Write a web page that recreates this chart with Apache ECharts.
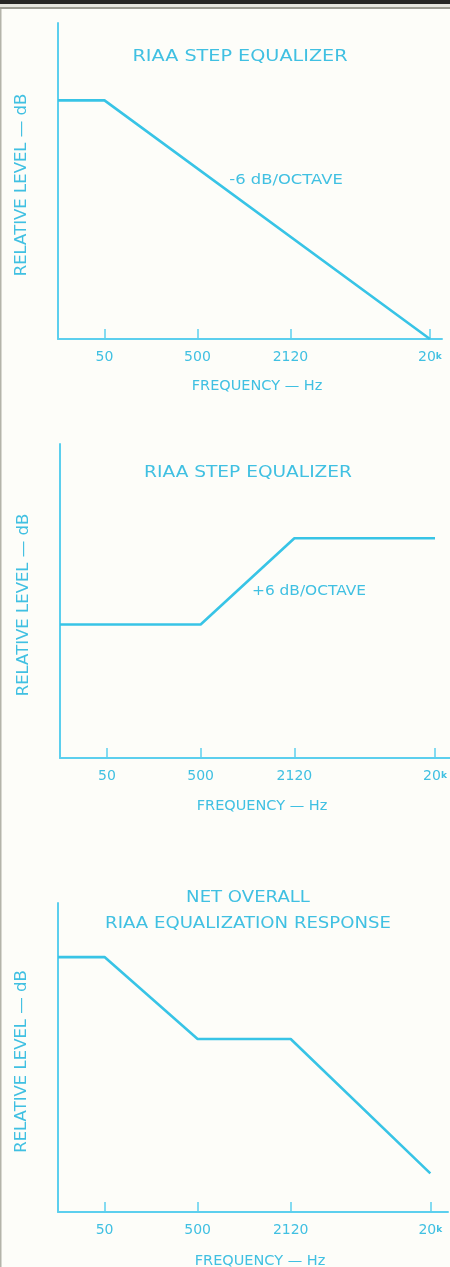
<!DOCTYPE html>
<html>
<head>
<meta charset="utf-8">
<title>RIAA Equalization</title>
<script src="https://cdn.jsdelivr.net/npm/echarts@6/dist/echarts.min.js"></script>
<style>
  html, body { margin: 0; padding: 0; background: #fdfdf9; }
  #chart { width: 450px; height: 1267px; }
</style>
</head>
<body>
<div id="chart"></div>
<script>
// Frequency marks along the schematic abscissa (not drawn to a true log scale)
const tickLabels = ['50', '500', '2120', '20k'];
const tickPos = [0.5, 1.5, 2.5, 4];

// Corner points of each response curve; 'start' is the left end of the abscissa
const stepCutFreqs = ['start', '50', '20k'];
const stepCutLevels = [30.2, 30.2, 0];

const stepBoostFreqs = ['start', '500', '2120', '20k'];
const stepBoostLevels = [17, 17, 28, 28];

const netFreqs = ['start', '50', '500', '2120', '20k'];
const netLevels = [33, 33, 22.4, 22.4, 5];

const titles = ['RIAA STEP EQUALIZER', 'RIAA STEP EQUALIZER', 'NET OVERALL\nRIAA EQUALIZATION RESPONSE'];
const slopeNotes = ['-6 dB/OCTAVE', '+6 dB/OCTAVE'];

const INK = '#40c0e2';
const AXIS = '#5ccfee';
const CURVE = '#38c4e6';
const FONT = '"DejaVu Sans", "Liberation Sans", sans-serif';

function xOf(label) {
  return label === 'start' ? 0 : tickPos[tickLabels.indexOf(label)];
}
function curve(freqs, levels) {
  return freqs.map((f, i) => [xOf(f), levels[i]]);
}

// fixed plot rectangles; names and labels may sit close to the page edge
const grids = [
  { left: 58, top: 23, width: 384, height: 316, outerBoundsMode: 'none', containLabel: false },
  { left: 60, top: 444, width: 390, height: 314, outerBoundsMode: 'none', containLabel: false },
  { left: 58, top: 903, width: 390, height: 309, outerBoundsMode: 'none', containLabel: false }
];
const xMax = [4.13, 4.16, 4.19];
const xNameGap = [40, 41, 42];

const chart = echarts.init(document.getElementById('chart'), null, { renderer: 'canvas' });

// wide lettering: stretch a text element horizontally about its centre
function label(x, y, text, size, stretch, lineHeight) {
  return {
    type: 'text', x: x, y: y, scaleX: stretch, scaleY: 1,
    style: {
      text: text, align: 'center', verticalAlign: 'middle', fill: INK,
      font: size + 'px ' + FONT, lineHeight: lineHeight || size * 1.2
    }
  };
}

const option = {
  backgroundColor: '#fdfdf9',
  animation: false,
  grid: grids,
  xAxis: grids.map((g, i) => ({
    gridIndex: i,
    type: 'value',
    min: 0,
    max: xMax[i],
    axisLine: { show: true, onZero: false, lineStyle: { color: AXIS, width: 2 } },
    splitLine: { show: false },
    axisTick: {
      show: true, inside: true, length: 10, customValues: tickPos,
      lineStyle: { color: AXIS, width: 1.5 }
    },
    axisLabel: {
      customValues: tickPos,
      margin: 11,
      color: INK,
      fontFamily: FONT,
      fontSize: 14,
      formatter: v => {
        const s = tickLabels[tickPos.indexOf(v)] || '';
        return s.replace('k', '{k|k}');
      },
      rich: { k: { fontSize: 9, fontFamily: FONT, color: INK, fontWeight: 'bold' } }
    },
    name: 'FREQUENCY — Hz',
    nameLocation: 'middle',
    nameGap: xNameGap[i],
    nameTextStyle: { color: INK, fontFamily: FONT, fontSize: 14.5, padding: [0, 0, 0, 14] }
  })),
  yAxis: grids.map((g, i) => ({
    gridIndex: i,
    type: 'value',
    min: 0,
    max: 40,
    axisLine: { show: true, onZero: false, lineStyle: { color: AXIS, width: 2 } },
    axisTick: { show: false },
    axisLabel: { show: false },
    splitLine: { show: false },
    name: 'RELATIVE LEVEL — dB',
    nameLocation: 'middle',
    nameRotate: 90,
    nameGap: 28,
    nameTextStyle: { color: INK, fontFamily: FONT, fontSize: 16.5, padding: [0, 8, 0, 0] }
  })),
  series: [
    { data: curve(stepCutFreqs, stepCutLevels), idx: 0 },
    { data: curve(stepBoostFreqs, stepBoostLevels), idx: 1 },
    { data: curve(netFreqs, netLevels), idx: 2 }
  ].map(s => ({
    type: 'line',
    xAxisIndex: s.idx,
    yAxisIndex: s.idx,
    data: s.data,
    showSymbol: false,
    lineStyle: { color: CURVE, width: 2.6 },
    z: 3
  })),
  graphic: [
    // page edge of the printed sheet
    { type: 'rect', shape: { x: 0, y: 0, width: 450, height: 4 }, style: { fill: '#262624' }, silent: true },
    { type: 'rect', shape: { x: 0, y: 4, width: 450, height: 3 }, style: { fill: '#e6e6de' }, silent: true },
    { type: 'rect', shape: { x: 0, y: 7, width: 450, height: 2 }, style: { fill: '#9c9c92' }, silent: true },
    { type: 'rect', shape: { x: 0, y: 9, width: 1.5, height: 1258 }, style: { fill: '#b4b4aa' }, silent: true },
    // chart headings
    label(240, 57, titles[0], 16, 1.2),
    label(248, 473, titles[1], 16, 1.16),
    label(248, 911, titles[2], 16, 1.13, 26),
    // slope annotations
    label(286, 180, slopeNotes[0], 14, 1.17),
    label(309, 591, slopeNotes[1], 14, 1.1)
  ]
};

chart.setOption(option);
</script>
</body>
</html>
